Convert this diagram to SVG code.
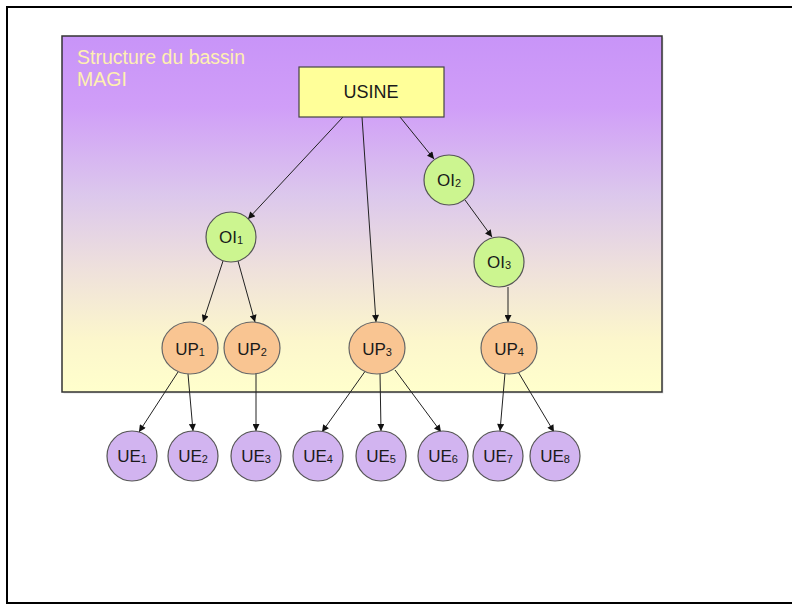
<svg xmlns="http://www.w3.org/2000/svg" width="792" height="606" viewBox="0 0 792 606">
<style>
.lbl{font-family:"Liberation Sans",Arial,sans-serif;font-size:17px;fill:#1a1a1a;text-anchor:middle}
.sub{font-size:11px}
.oi{fill:#CCF590;stroke:#555;stroke-width:1.2}
.up{fill:#F9C592;stroke:#666;stroke-width:1.2}
.ue{fill:#D2B4F0;stroke:#555;stroke-width:1.2}
.cn line{stroke:#222;stroke-width:1;marker-end:url(#ah)}
.ttl{font-family:"Liberation Sans",Arial,sans-serif;font-size:19.5px;fill:#FFF0B0}
</style>
<defs>
<linearGradient id="bg" x1="0" y1="0" x2="0" y2="1">
<stop offset="0" stop-color="#C894F8"/>
<stop offset="0.2" stop-color="#D09EF8"/>
<stop offset="0.45" stop-color="#DCC8EC"/>
<stop offset="0.65" stop-color="#EEE0DC"/>
<stop offset="0.85" stop-color="#FCF6CC"/>
<stop offset="1" stop-color="#FFFFCC"/>
</linearGradient>
<marker id="ah" viewBox="0 0 10 10" refX="10" refY="5" markerWidth="8" markerHeight="7" markerUnits="userSpaceOnUse" orient="auto">
<path d="M0,0 L10,5 L0,10 z" fill="#111"/>
</marker>
</defs>
<rect x="0" y="0" width="792" height="606" fill="#fff"/>
<rect x="7" y="7" width="800" height="596" fill="none" stroke="#000" stroke-width="2"/>
<g id="bassin">
<rect x="63.5" y="37.5" width="600" height="356" fill="#bbb" opacity="0.4"/>
<rect x="62" y="36" width="600" height="356" fill="url(#bg)" stroke="#333" stroke-width="1.5"/>
<text class="ttl" x="77" y="64">Structure du bassin</text>
<text class="ttl" x="77" y="86">MAGI</text>
</g>
<g class="cn" id="connectors">
<line x1="343" y1="117" x2="248" y2="219"/>
<line x1="362" y1="117" x2="376" y2="322"/>
<line x1="400" y1="117" x2="434" y2="159"/>
<line x1="223" y1="261" x2="203" y2="322"/>
<line x1="238" y1="261" x2="255" y2="322"/>
<line x1="465" y1="200" x2="492" y2="237"/>
<line x1="508" y1="287" x2="508" y2="322"/>
<line x1="178" y1="372" x2="139" y2="432"/>
<line x1="188" y1="374" x2="193" y2="431"/>
<line x1="256" y1="374" x2="256" y2="431"/>
<line x1="366" y1="370" x2="322" y2="432"/>
<line x1="380" y1="373" x2="381" y2="431"/>
<line x1="395" y1="370" x2="441" y2="432"/>
<line x1="505" y1="373" x2="500" y2="431"/>
<line x1="517" y1="370" x2="554" y2="432"/>
</g>
<g id="usine">
<rect x="299" y="67" width="145" height="50" fill="#FFFF99" stroke="#444" stroke-width="1.2"/>
<text class="lbl" x="371" y="98" style="font-size:18px">USINE</text>
</g>
<g id="oi1"><circle class="oi" cx="231" cy="237" r="25"/><text class="lbl" x="231" y="243">OI<tspan class="sub" dy="1">1</tspan></text></g>
<g id="oi2"><circle class="oi" cx="449" cy="180" r="25"/><text class="lbl" x="449" y="186">OI<tspan class="sub" dy="1">2</tspan></text></g>
<g id="oi3"><circle class="oi" cx="499" cy="262" r="25"/><text class="lbl" x="499" y="268">OI<tspan class="sub" dy="1">3</tspan></text></g>
<g id="up1"><ellipse class="up" cx="190" cy="348" rx="28" ry="26"/><text class="lbl" x="190" y="355">UP<tspan class="sub" dy="1">1</tspan></text></g>
<g id="up2"><ellipse class="up" cx="252" cy="348" rx="28" ry="26"/><text class="lbl" x="252" y="355">UP<tspan class="sub" dy="1">2</tspan></text></g>
<g id="up3"><ellipse class="up" cx="377" cy="348" rx="28" ry="26"/><text class="lbl" x="377" y="355">UP<tspan class="sub" dy="1">3</tspan></text></g>
<g id="up4"><ellipse class="up" cx="509" cy="348" rx="28" ry="26"/><text class="lbl" x="509" y="355">UP<tspan class="sub" dy="1">4</tspan></text></g>
<g id="ue1"><circle class="ue" cx="132" cy="456" r="25"/><text class="lbl" x="132" y="462">UE<tspan class="sub" dy="1">1</tspan></text></g>
<g id="ue2"><circle class="ue" cx="193" cy="456" r="25"/><text class="lbl" x="193" y="462">UE<tspan class="sub" dy="1">2</tspan></text></g>
<g id="ue3"><circle class="ue" cx="256" cy="456" r="25"/><text class="lbl" x="256" y="462">UE<tspan class="sub" dy="1">3</tspan></text></g>
<g id="ue4"><circle class="ue" cx="318" cy="456" r="25"/><text class="lbl" x="318" y="462">UE<tspan class="sub" dy="1">4</tspan></text></g>
<g id="ue5"><circle class="ue" cx="381" cy="456" r="25"/><text class="lbl" x="381" y="462">UE<tspan class="sub" dy="1">5</tspan></text></g>
<g id="ue6"><circle class="ue" cx="443" cy="456" r="25"/><text class="lbl" x="443" y="462">UE<tspan class="sub" dy="1">6</tspan></text></g>
<g id="ue7"><circle class="ue" cx="498" cy="456" r="25"/><text class="lbl" x="498" y="462">UE<tspan class="sub" dy="1">7</tspan></text></g>
<g id="ue8"><circle class="ue" cx="555" cy="456" r="25"/><text class="lbl" x="555" y="462">UE<tspan class="sub" dy="1">8</tspan></text></g>
</svg>
